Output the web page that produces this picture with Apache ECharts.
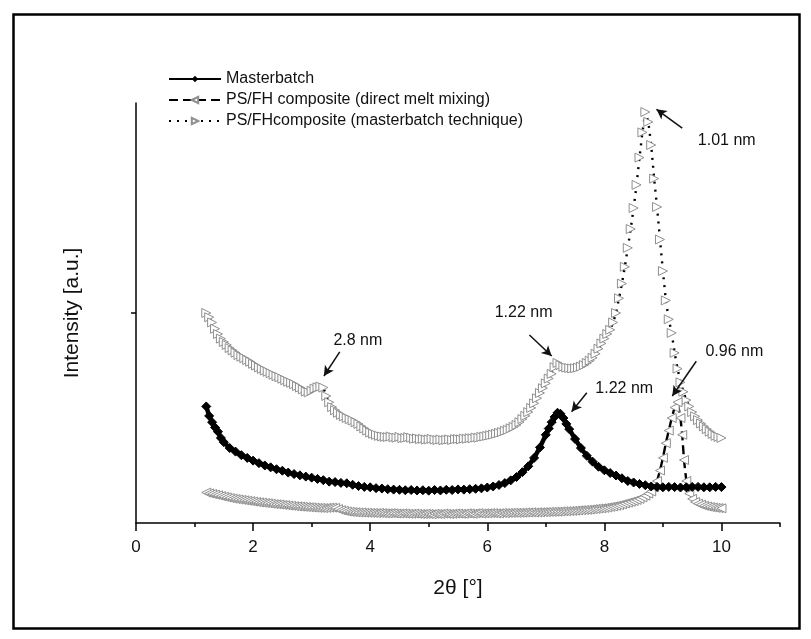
<!DOCTYPE html>
<html><head><meta charset="utf-8">
<script src="https://cdn.jsdelivr.net/npm/echarts@6/dist/echarts.min.js"></script>
<style>html,body{margin:0;padding:0;background:#fff}#c{width:811px;height:639px}</style>
</head><body><div id="c"></div>
<script>
const seriesNames = ['Masterbatch', 'PS/FH composite (direct melt mixing)', 'PS/FHcomposite (masterbatch technique)'];
const xTickLabels = [0, 2, 4, 6, 8, 10];

// Masterbatch
const mbX = [1.2,1.25,1.3,1.35,1.4,1.45,1.5,1.6,1.7,1.8,1.9,2.0,2.1,2.2,2.3,2.4,2.5,2.6,2.7,2.8,2.9,3.0,3.1,3.2,3.3,3.4,3.5,3.6,3.7,3.8,3.9,4.0,4.1,4.2,4.3,4.4,4.5,4.6,4.7,4.8,4.9,5.0,5.1,5.2,5.3,5.4,5.5,5.6,5.7,5.8,5.9,6.0,6.1,6.2,6.3,6.4,6.5,6.6,6.7,6.8,6.9,7.0,7.05,7.1,7.15,7.2,7.25,7.3,7.35,7.4,7.5,7.6,7.7,7.8,7.9,8.0,8.1,8.2,8.3,8.4,8.5,8.6,8.7,8.8,8.9,9.0,9.1,9.2,9.3,9.4,9.5,9.6,9.7,9.8,9.9,10.0];
const mbY = [0.555,0.51,0.48,0.455,0.435,0.405,0.385,0.357,0.34,0.323,0.31,0.297,0.285,0.274,0.265,0.256,0.249,0.24,0.233,0.227,0.221,0.216,0.21,0.204,0.197,0.195,0.191,0.189,0.182,0.176,0.172,0.17,0.166,0.164,0.161,0.159,0.158,0.156,0.157,0.155,0.156,0.154,0.157,0.155,0.158,0.157,0.16,0.159,0.161,0.163,0.165,0.169,0.174,0.181,0.19,0.203,0.219,0.242,0.27,0.31,0.36,0.42,0.45,0.48,0.505,0.525,0.52,0.5,0.472,0.447,0.4,0.357,0.32,0.292,0.268,0.251,0.238,0.226,0.213,0.2,0.193,0.186,0.18,0.174,0.172,0.17,0.172,0.171,0.169,0.17,0.172,0.172,0.17,0.17,0.172,0.171];

// PS/FH composite (direct melt mixing)
const dmX = [1.2,1.25,1.3,1.35,1.4,1.45,1.5,1.55,1.6,1.65,1.7,1.75,1.8,1.85,1.9,1.95,2.0,2.05,2.1,2.15,2.2,2.25,2.3,2.35,2.4,2.45,2.5,2.55,2.6,2.65,2.7,2.75,2.8,2.85,2.9,2.95,3.0,3.05,3.1,3.15,3.2,3.25,3.3,3.35,3.4,3.45,3.5,3.55,3.6,3.65,3.7,3.75,3.8,3.85,3.9,3.95,4.0,4.05,4.1,4.15,4.2,4.25,4.3,4.35,4.4,4.45,4.5,4.55,4.6,4.65,4.7,4.75,4.8,4.85,4.9,4.95,5.0,5.05,5.1,5.15,5.2,5.25,5.3,5.35,5.4,5.45,5.5,5.55,5.6,5.65,5.7,5.75,5.8,5.85,5.9,5.95,6.0,6.05,6.1,6.15,6.2,6.25,6.3,6.35,6.4,6.45,6.5,6.55,6.6,6.65,6.7,6.75,6.8,6.85,6.9,6.95,7.0,7.05,7.1,7.15,7.2,7.25,7.3,7.35,7.4,7.45,7.5,7.55,7.6,7.65,7.7,7.75,7.8,7.85,7.9,7.95,8.0,8.05,8.1,8.15,8.2,8.25,8.3,8.35,8.4,8.45,8.5,8.55,8.6,8.65,8.7,8.75,8.8,8.85,8.9,8.95,9.0,9.05,9.1,9.15,9.2,9.25,9.3,9.33,9.36,9.4,9.45,9.5,9.55,9.6,9.65,9.7,9.75,9.8,9.85,9.9,9.95,10.0];
const dmY = [0.145,0.141,0.138,0.135,0.132,0.128,0.125,0.122,0.119,0.116,0.114,0.112,0.11,0.108,0.106,0.104,0.102,0.1,0.098,0.097,0.095,0.094,0.092,0.09,0.089,0.088,0.086,0.085,0.083,0.082,0.08,0.079,0.078,0.077,0.076,0.075,0.074,0.073,0.072,0.072,0.071,0.072,0.073,0.073,0.072,0.066,0.061,0.058,0.055,0.053,0.052,0.051,0.05,0.05,0.049,0.049,0.048,0.048,0.047,0.048,0.047,0.046,0.046,0.047,0.046,0.045,0.045,0.046,0.045,0.044,0.044,0.045,0.044,0.043,0.043,0.044,0.043,0.042,0.044,0.043,0.043,0.045,0.044,0.043,0.044,0.045,0.045,0.044,0.044,0.046,0.045,0.044,0.046,0.047,0.045,0.046,0.046,0.047,0.047,0.046,0.046,0.048,0.047,0.048,0.048,0.049,0.048,0.049,0.049,0.05,0.05,0.051,0.05,0.051,0.051,0.052,0.052,0.053,0.053,0.054,0.054,0.055,0.056,0.056,0.057,0.058,0.059,0.06,0.061,0.062,0.063,0.064,0.066,0.067,0.069,0.07,0.072,0.074,0.077,0.079,0.082,0.085,0.089,0.093,0.097,0.101,0.105,0.11,0.115,0.122,0.13,0.14,0.15,0.17,0.2,0.25,0.31,0.38,0.44,0.5,0.55,0.575,0.5,0.42,0.3,0.2,0.14,0.115,0.1,0.092,0.087,0.082,0.079,0.076,0.074,0.072,0.071,0.07];

// PS/FHcomposite (masterbatch technique)
const mtX = [1.2,1.25,1.3,1.35,1.4,1.45,1.5,1.55,1.6,1.65,1.7,1.75,1.8,1.85,1.9,1.95,2.0,2.05,2.1,2.15,2.2,2.25,2.3,2.35,2.4,2.45,2.5,2.55,2.6,2.65,2.7,2.75,2.8,2.85,2.9,2.95,3.0,3.05,3.1,3.15,3.2,3.25,3.3,3.35,3.4,3.45,3.5,3.55,3.6,3.65,3.7,3.75,3.8,3.85,3.9,3.95,4.0,4.05,4.1,4.15,4.2,4.25,4.3,4.35,4.4,4.45,4.5,4.55,4.6,4.65,4.7,4.75,4.8,4.85,4.9,4.95,5.0,5.05,5.1,5.15,5.2,5.25,5.3,5.35,5.4,5.45,5.5,5.55,5.6,5.65,5.7,5.75,5.8,5.85,5.9,5.95,6.0,6.05,6.1,6.15,6.2,6.25,6.3,6.35,6.4,6.45,6.5,6.55,6.6,6.65,6.7,6.75,6.8,6.85,6.9,6.95,7.0,7.05,7.1,7.15,7.2,7.25,7.3,7.35,7.4,7.45,7.5,7.55,7.6,7.65,7.7,7.75,7.8,7.85,7.9,7.95,8.0,8.05,8.1,8.15,8.2,8.25,8.3,8.35,8.4,8.45,8.5,8.55,8.6,8.65,8.7,8.75,8.8,8.85,8.9,8.95,9.0,9.05,9.1,9.15,9.2,9.25,9.3,9.35,9.4,9.45,9.5,9.55,9.6,9.65,9.7,9.75,9.8,9.85,9.9,9.95,10.0];
const mtY = [1.0,0.98,0.955,0.925,0.9,0.878,0.862,0.848,0.833,0.822,0.811,0.8,0.792,0.785,0.776,0.768,0.758,0.75,0.741,0.734,0.726,0.72,0.713,0.706,0.699,0.694,0.687,0.68,0.673,0.668,0.661,0.652,0.645,0.636,0.626,0.622,0.63,0.64,0.646,0.65,0.645,0.605,0.575,0.552,0.537,0.525,0.515,0.508,0.5,0.494,0.488,0.48,0.472,0.46,0.45,0.44,0.431,0.425,0.42,0.415,0.412,0.41,0.409,0.412,0.408,0.406,0.41,0.404,0.405,0.409,0.406,0.401,0.403,0.399,0.401,0.397,0.398,0.401,0.397,0.395,0.398,0.394,0.396,0.398,0.395,0.399,0.4,0.398,0.402,0.401,0.404,0.403,0.407,0.406,0.41,0.412,0.415,0.418,0.421,0.425,0.429,0.433,0.439,0.444,0.451,0.458,0.467,0.48,0.495,0.51,0.528,0.548,0.57,0.594,0.619,0.642,0.665,0.688,0.71,0.742,0.762,0.752,0.744,0.74,0.738,0.736,0.737,0.74,0.745,0.752,0.762,0.773,0.787,0.806,0.83,0.855,0.878,0.9,0.92,0.955,1.0,1.07,1.14,1.22,1.31,1.4,1.5,1.61,1.74,1.86,1.957,1.91,1.8,1.64,1.505,1.35,1.2,1.06,0.97,0.905,0.81,0.735,0.67,0.625,0.585,0.555,0.528,0.508,0.49,0.474,0.46,0.447,0.435,0.424,0.415,0.41,0.405];

// annotations: label text, label anchor, arrow start, arrow tip (data coords)
const annTexts = ['2.8 nm', '1.22 nm', '1.22 nm', '0.96 nm', '1.01 nm'];
const annLabelAt = [[3.79, 0.87], [6.62, 1.0], [8.34, 0.64], [10.22, 0.815], [10.09, 1.82]];
const annFrom = [[3.48, 0.815], [6.72, 0.895], [7.70, 0.62], [9.57, 0.77], [9.33, 1.88]];
const annTo = [[3.21, 0.7], [7.10, 0.795], [7.44, 0.53], [9.16, 0.605], [8.89, 1.97]];

const zip = (xs, ys) => xs.map((x, i) => [x, ys[i]]);

const chart = echarts.init(document.getElementById('c'), null, {renderer: 'canvas'});
const font = 'Liberation Sans, Arial, sans-serif';

const annLines = annFrom.map((f, i) => [{coord: f}, {coord: annTo[i]}]);
const annPoints = annLabelAt.map((p, i) => ({coord: p, value: annTexts[i]}));

chart.setOption({
  animation: false,
  backgroundColor: '#fff',
  textStyle: {fontFamily: font},
  graphic: [{
    type: 'rect', left: 11, top: 12,
    shape: {width: 786, height: 614},
    style: {fill: 'none', stroke: '#000', lineWidth: 2.5}
  }],
  legend: {
    orient: 'vertical', left: 163, top: 66, itemGap: 5,
    itemWidth: 52, itemHeight: 8,
    textStyle: {fontSize: 16, color: '#111', fontFamily: font},
    data: seriesNames
  },
  grid: {left: 136, right: 31, top: 103, bottom: 116, containLabel: false},
  xAxis: [{
    type: 'value', min: 0, max: 11, interval: 1,
    axisLine: {show: true, lineStyle: {color: '#000', width: 1.5}},
    axisTick: {show: true, customValues: xTickLabels, length: 8, lineStyle: {color: '#000', width: 1.5}},
    axisLabel: {customValues: xTickLabels, fontSize: 17, color: '#111', margin: 16, fontFamily: font},
    splitLine: {show: false},
    name: '2θ [°]', nameLocation: 'middle', nameGap: 55,
    nameTextStyle: {fontSize: 21, color: '#111', fontFamily: font}
  }, {
    type: 'value', min: 0, max: 11, interval: 1, position: 'bottom',
    axisLine: {show: false},
    axisTick: {show: true, customValues: [1, 3, 5, 7, 9, 11], length: 4, lineStyle: {color: '#000', width: 1.5}},
    axisLabel: {show: false}, splitLine: {show: false}
  }],
  yAxis: {
    type: 'value', min: 0, max: 2, interval: 1,
    axisLine: {show: true, lineStyle: {color: '#000', width: 1.5}},
    axisTick: {show: true, customValues: [1], length: 5, lineStyle: {color: '#000', width: 1.5}},
    axisLabel: {show: false},
    splitLine: {show: false},
    name: 'Intensity [a.u.]', nameLocation: 'middle', nameGap: 53,
    nameTextStyle: {fontSize: 21, color: '#111', fontFamily: font}
  },
  series: [{
    name: seriesNames[2], type: 'line', data: zip(mtX, mtY),
    symbol: 'triangle', symbolRotate: -90, symbolSize: 9,
    itemStyle: {color: '#fff', borderColor: '#8f8f8f', borderWidth: 1},
    lineStyle: {color: '#000', width: 2.4, type: [2, 6]},
    z: 2
  }, {
    name: seriesNames[1], type: 'line', data: zip(dmX, dmY),
    symbol: 'triangle', symbolRotate: 90, symbolSize: 9,
    itemStyle: {color: '#fff', borderColor: '#8f8f8f', borderWidth: 1},
    lineStyle: {color: '#000', width: 2.4, type: [9, 5]},
    z: 3
  }, {
    name: seriesNames[0], type: 'line', data: zip(mbX, mbY),
    symbol: 'diamond', symbolSize: 9,
    itemStyle: {color: '#000', borderColor: '#000'},
    lineStyle: {color: '#000', width: 4.5},
    z: 4,
    markLine: {
      silent: true, symbol: ['none', 'arrow'], symbolSize: [8, 10],
      lineStyle: {color: '#111', width: 1.5, type: 'solid'},
      label: {show: false},
      data: annLines
    },
    markPoint: {
      silent: true, symbol: 'circle', symbolSize: 0,
      label: {show: true, position: 'inside', formatter: p => p.value, fontSize: 16, color: '#111', fontFamily: font},
      data: annPoints
    }
  }]
});
</script></body></html>
